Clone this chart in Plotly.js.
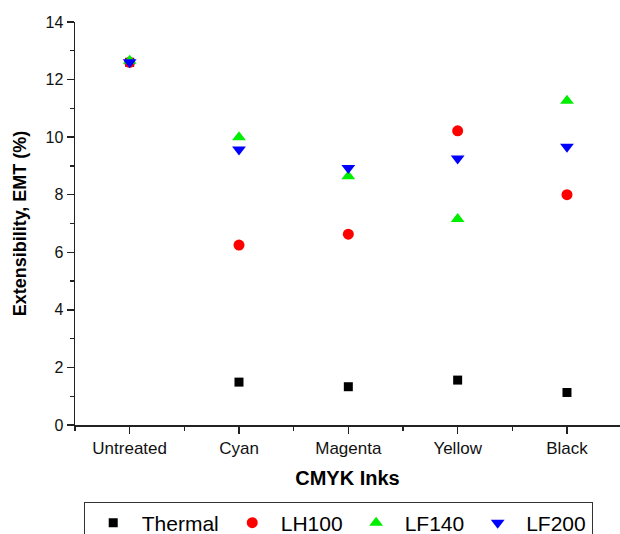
<!DOCTYPE html>
<html>
<head>
<meta charset="utf-8">
<script src="https://cdn.plot.ly/plotly-3.0.1.min.js"></script>
<style>
  html, body { margin: 0; padding: 0; background: #fff; }
  #chart { width: 620px; height: 534px; }
</style>
</head>
<body>
<div id="chart"></div>
<script>
// Ink categories along the x axis
const inks = ['Untreated', 'Cyan', 'Magenta', 'Yellow', 'Black'];

// Extensibility (EMT, %) per treatment
const thermal = [12.6, 1.49, 1.33, 1.56, 1.13];
const lh100   = [12.6, 6.25, 6.63, 10.22, 8.0];
const lf140   = [12.65, 10.0, 8.64, 7.16, 11.26];
const lf200   = [12.6, 9.57, 8.93, 9.26, 9.67];

const seriesNames = ['Thermal', 'LH100', 'LF140', 'LF200'];

const xIdx = inks.map((_, i) => i);
const font = 'Liberation Sans, Arial, Helvetica, sans-serif';

const styles = [
  { color: '#000000', symbol: 'square', size: 9 },
  { color: '#ff0000', symbol: 'circle', size: 11 },
  { color: '#00ee00', symbol: 'triangle-up', size: 12 },
  { color: '#0000ff', symbol: 'triangle-down', size: 12 }
];

const traces = [thermal, lh100, lf140, lf200].map((ys, k) => ({
  type: 'scatter',
  mode: 'markers',
  name: seriesNames[k],
  x: xIdx,
  y: ys,
  marker: { color: styles[k].color, symbol: styles[k].symbol, size: styles[k].size, line: { width: 0 } }
}));

const layout = {
  width: 620,
  height: 534,
  // fixed margins: the legend box runs past the bottom edge
  margin: { l: 75, r: 0, t: 22, b: 109, autoexpand: false },
  paper_bgcolor: '#ffffff',
  plot_bgcolor: '#ffffff',
  font: { family: font, color: '#000000' },
  showlegend: true,
  legend: {
    orientation: 'h',
    x: 0.016, xanchor: 'left',
    y: -0.19, yanchor: 'top',
    font: { family: font, size: 21, color: '#000000' },
    bordercolor: '#333333',
    borderwidth: 1,
    bgcolor: '#ffffff',
    itemwidth: 47
  },
  xaxis: {
    range: [-0.5, 4.485],
    tickmode: 'array',
    tickvals: xIdx,
    ticktext: inks,
    ticks: 'outside',
    ticklen: 7,
    tickwidth: 1.3,
    tickcolor: '#222222',
    showline: true,
    linecolor: '#222222',
    linewidth: 1.5,
    showgrid: false,
    zeroline: false,
    tickfont: { family: font, size: 17, color: '#111111' },
    minor: { tick0: -0.5, dtick: 1, ticks: 'outside', ticklen: 4, tickwidth: 1.3, tickcolor: '#222222', showgrid: false },
    title: { text: '<b>CMYK Inks</b>', font: { family: font, size: 20, color: '#000000' }, standoff: 14 }
  },
  yaxis: {
    range: [0, 14],
    tickmode: 'linear',
    tick0: 0,
    dtick: 2,
    ticks: 'outside',
    ticklen: 7,
    tickwidth: 1.3,
    tickcolor: '#222222',
    showline: true,
    linecolor: '#222222',
    linewidth: 1.5,
    showgrid: false,
    zeroline: false,
    tickfont: { family: font, size: 16, color: '#111111' },
    minor: { dtick: 1, ticks: 'outside', ticklen: 4, tickwidth: 1.3, tickcolor: '#222222', showgrid: false },
    title: { text: '<b>Extensibility, EMT (%)</b>', font: { family: font, size: 18, color: '#000000' }, standoff: 14 }
  }
};

Plotly.newPlot('chart', traces, layout, { displayModeBar: false, staticPlot: true });
</script>
</body>
</html>
